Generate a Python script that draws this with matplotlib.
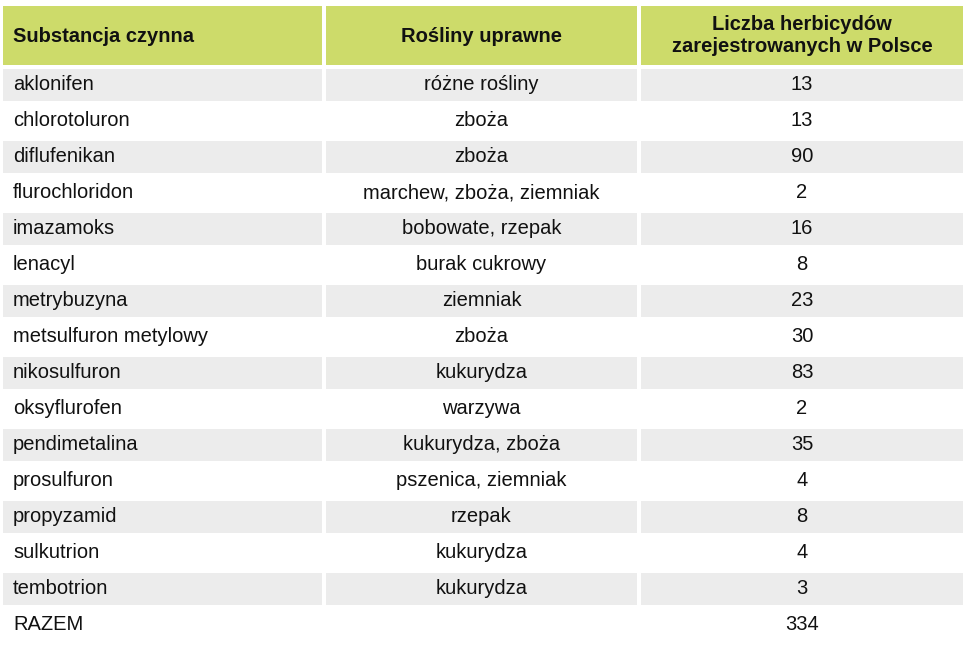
import matplotlib.pyplot as plt
from matplotlib.patches import Rectangle

naglowki = ["Substancja czynna", "Rośliny uprawne", "Liczba herbicydów\nzarejestrowanych w Polsce"]
substancje = ["aklonifen", "chlorotoluron", "diflufenikan", "flurochloridon", "imazamoks",
              "lenacyl", "metrybuzyna", "metsulfuron metylowy", "nikosulfuron", "oksyflurofen",
              "pendimetalina", "prosulfuron", "propyzamid", "sulkutrion", "tembotrion"]
rosliny = ["różne rośliny", "zboża", "zboża", "marchew, zboża, ziemniak", "bobowate, rzepak",
           "burak cukrowy", "ziemniak", "zboża", "kukurydza", "warzywa",
           "kukurydza, zboża", "pszenica, ziemniak", "rzepak", "kukurydza", "kukurydza"]
liczby = [13, 13, 90, 2, 16, 8, 23, 30, 83, 2, 35, 4, 8, 4, 3]
razem = 334

plt.rcParams['font.family'] = ['Liberation Sans', 'DejaVu Sans']
fig = plt.figure(figsize=(9.66, 6.47), dpi=100)
ax = fig.add_axes([0, 0, 1, 1])
ax.set_xlim(0, 966)
ax.set_ylim(647, 0)
ax.axis('off')

kolumny = [(3, 322), (326, 637), (641, 963)]
zielony = '#CDDB6A'
szary = '#ECECEC'

# naglowek
for (x0, x1), t in zip(kolumny, naglowki):
    ax.add_patch(Rectangle((x0, 6), x1 - x0, 59, color=zielony, lw=0))
for i, t in enumerate(naglowki):
    x0, x1 = kolumny[i]
    if i == 0:
        ax.text(x0 + 10, 36, t, ha='left', va='center', fontsize=14.5, fontweight='bold', color='#111')
    else:
        ax.text((x0 + x1) / 2, 36, t, ha='center', va='center', fontsize=14.5, fontweight='bold',
                color='#111', linespacing=1.2)

# wiersze
for i, (s, r, n) in enumerate(zip(substancje, rosliny, liczby)):
    y0 = 69 + 36 * i
    yc = y0 + 16
    if i % 2 == 0:
        for x0, x1 in kolumny:
            ax.add_patch(Rectangle((x0, y0), x1 - x0, 32, color=szary, lw=0))
    ax.text(kolumny[0][0] + 10, yc, s, ha='left', va='center', fontsize=14.5, color='#111')
    ax.text(sum(kolumny[1]) / 2, yc, r, ha='center', va='center', fontsize=14.5, color='#111')
    ax.text(sum(kolumny[2]) / 2, yc, str(n), ha='center', va='center', fontsize=14.5, color='#111')

yc = 69 + 36 * len(substancje) + 16
ax.text(kolumny[0][0] + 10, yc, "RAZEM", ha='left', va='center', fontsize=14.5, color='#111')
ax.text(sum(kolumny[2]) / 2, yc, str(razem), ha='center', va='center', fontsize=14.5, color='#111')

fig.savefig('out.png', dpi=100)
